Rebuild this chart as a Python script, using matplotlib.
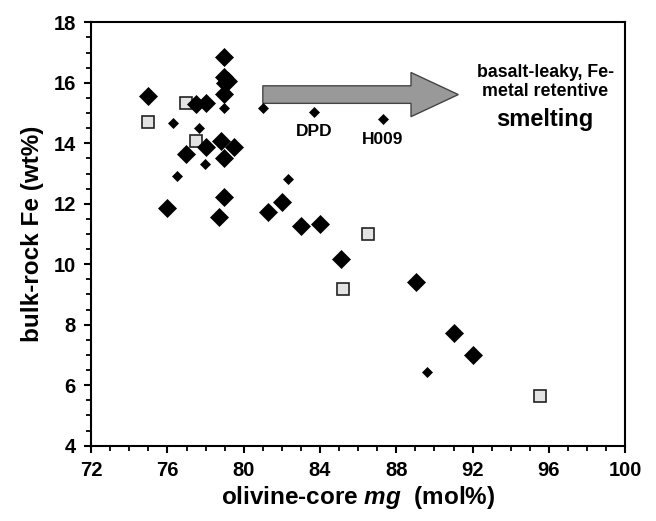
import matplotlib
matplotlib.use("Agg")
import matplotlib.pyplot as plt
from matplotlib.patches import FancyArrow
from matplotlib.ticker import MultipleLocator

plt.rcParams['font.family'] = ['Liberation Sans', 'DejaVu Sans']
plt.rcParams['font.weight'] = 'bold'
plt.rcParams['mathtext.fontset'] = 'custom'
plt.rcParams['mathtext.it'] = 'Liberation Sans:bold:italic'
plt.rcParams['mathtext.rm'] = 'Liberation Sans:bold'

# Large black diamonds
big_x = [74.99, 78.97, 78.98, 79.20, 79.00, 78.97, 77.49, 78.02, 78.01, 78.79, 79.48,
         76.97, 78.97, 75.99, 78.97, 78.70, 81.28, 81.98, 83.00, 84.00, 85.09, 89.01,
         91.00, 92.02]
big_y = [15.57, 16.86, 16.18, 16.05, 16.00, 15.62, 15.29, 15.32, 13.89, 14.08, 13.89,
         13.64, 13.51, 11.85, 12.21, 11.55, 11.72, 12.07, 11.26, 11.33, 10.16, 9.40,
         7.74, 7.01]

# Small black diamonds
small_x = [78.97, 80.99, 76.27, 77.66, 77.98, 76.48, 82.30, 89.60, 83.70, 87.30]
small_y = [15.18, 15.16, 14.68, 14.51, 13.31, 12.92, 12.81, 6.43, 15.05, 14.80]

# Light grey squares
sq_x = [74.96, 76.97, 77.47, 86.49, 85.18, 95.51]
sq_y = [14.71, 15.34, 14.07, 10.99, 9.18, 5.66]

# Labelled samples
lab_names = ["DPD", "H009"]
lab_x = [83.70, 87.30]
lab_y = [15.05, 14.80]

fig = plt.figure(figsize=(6.56, 5.21), dpi=100)
ax = fig.add_axes([0.139, 0.1445, 0.814, 0.8127])

ax.plot(sq_x, sq_y, linestyle='none', marker='s', markersize=8.8,
        markerfacecolor='#e3e3e3', markeredgecolor='#222222', markeredgewidth=1.2, zorder=3)
ax.plot(big_x, big_y, linestyle='none', marker='D', markersize=8.7,
        markerfacecolor='black', markeredgecolor='black', markeredgewidth=0.5, zorder=4)
ax.plot(small_x, small_y, linestyle='none', marker='D', markersize=5.6,
        markerfacecolor='black', markeredgecolor='black', markeredgewidth=0.5, zorder=4)

for name, x, y in zip(lab_names, lab_x, lab_y):
    ax.annotate(name, (x, y), xytext=(0, -9), textcoords='offset points',
                ha='center', va='top', fontsize=12.5, fontweight='bold')

arrow = FancyArrow(81.0, 15.61, 10.25, 0, width=0.58, head_width=1.46,
                   head_length=2.48, length_includes_head=True,
                   facecolor='#999999', edgecolor='#444444', linewidth=1.0, zorder=2)
ax.add_patch(arrow)

ax.text(95.8, 16.04, "basalt-leaky, Fe-\nmetal retentive", ha='center', va='center',
        fontsize=12.8, fontweight='bold', linespacing=1.15)
ax.text(95.8, 14.77, "smelting", ha='center', va='center', fontsize=17, fontweight='bold')

ax.set_xlim(72, 100)
ax.set_ylim(4, 18)
ax.xaxis.set_major_locator(MultipleLocator(4))
ax.xaxis.set_minor_locator(MultipleLocator(1))
ax.yaxis.set_major_locator(MultipleLocator(2))
ax.yaxis.set_minor_locator(MultipleLocator(0.5))

for s in ax.spines.values():
    s.set_linewidth(1.5)
ax.tick_params(which='major', direction='out', length=5, width=1.5, labelsize=14.5, pad=6)
ax.tick_params(which='minor', direction='out', length=3.5, width=1.3)
ax.tick_params(top=False, right=False, which='both')
for lbl in ax.get_xticklabels() + ax.get_yticklabels():
    lbl.set_fontweight('bold')

ax.set_xlabel(r"olivine-core $mg$  (mol%)", fontsize=17.5, fontweight='bold', labelpad=3)
ax.set_ylabel("bulk-rock Fe (wt%)", fontsize=17.5, fontweight='bold', labelpad=7)

fig.savefig("out.png", dpi=100)
